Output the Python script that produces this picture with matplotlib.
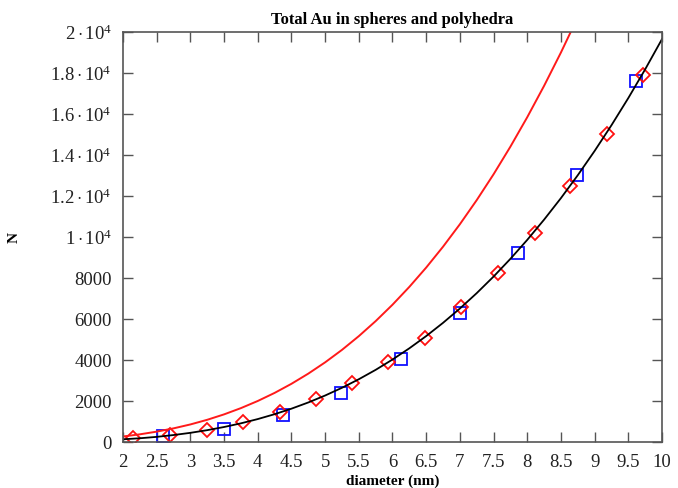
import numpy as np
import matplotlib
matplotlib.use('Agg')
import matplotlib.pyplot as plt
from matplotlib.ticker import MultipleLocator, FuncFormatter

# ── Données ───────────────────────────────────────────────────
# courbe rouge (sphères)
d_sphere = [2.0, 2.25, 2.5, 2.75, 3.0, 3.25, 3.5, 3.75, 4.0, 4.25, 4.5, 4.75,
            5.0, 5.25, 5.5, 5.75, 6.0, 6.25, 6.5, 6.75, 7.0, 7.25, 7.5, 7.75,
            8.0, 8.25, 8.5, 8.75]
n_sphere = [247, 352, 483, 643, 834, 1061, 1325, 1630, 1978, 2372, 2816, 3312,
            3863, 4471, 5141, 5874, 6674, 7544, 8486, 9503, 10599, 11776, 13036, 14384,
            15821, 17351, 18977, 20700]

# courbe noire (ajustement)
d_fit = [2.0, 2.25, 2.5, 2.75, 3.0, 3.25, 3.5, 3.75, 4.0, 4.25, 4.5, 4.75,
         5.0, 5.25, 5.5, 5.75, 6.0, 6.25, 6.5, 6.75, 7.0, 7.25, 7.5, 7.75,
         8.0, 8.25, 8.5, 8.75, 9.0, 9.25, 9.5, 9.75, 10.0]
n_fit = [110, 160, 228, 317, 425, 555, 709, 888, 1096, 1334, 1603, 1906,
         2245, 2622, 3039, 3497, 4000, 4548, 5144, 5790, 6488, 7239, 8047, 8912,
         9837, 10824, 11874, 12991, 14175, 15429, 16755, 18155, 19630]

# losanges rouges
d_diam = [2.15, 2.70, 3.24, 3.785, 4.33, 4.86, 5.40, 5.935, 6.48, 7.02, 7.57, 8.11, 8.64, 9.19, 9.72]
n_diam = [180, 307, 585, 960, 1447, 2080, 2860, 3870, 5073, 6570, 8244, 10180, 12455, 14990, 17900]

# carrés bleus
d_sq = [2.60, 3.50, 4.37, 5.24, 6.12, 7.00, 7.87, 8.74, 9.62]
n_sq = [277, 634, 1285, 2390, 4049, 6293, 9220, 12990, 17580]

plt.rcParams['font.family'] = ['Liberation Serif', 'DejaVu Serif']
plt.rcParams['mathtext.fontset'] = 'custom'
plt.rcParams['mathtext.rm'] = 'Liberation Serif'
plt.rcParams['mathtext.it'] = 'Liberation Serif:italic'
plt.rcParams['mathtext.bf'] = 'Liberation Serif:bold'

fig = plt.figure(figsize=(6.78, 4.89), dpi=100)
ax = fig.add_axes([0.1814, 0.095, 0.795, 0.8385])

ax.plot(d_sq, n_sq, linestyle='none', marker='s', markersize=8.5,
        markerfacecolor='none', markeredgecolor='#1010ff', markeredgewidth=1.3)
ax.plot(d_diam, n_diam, linestyle='none', marker='D', markersize=6.8,
        markerfacecolor='none', markeredgecolor='#ff1010', markeredgewidth=1.3)
ax.plot(d_sphere, n_sphere, color='#ff1a1a', linewidth=1.4)
ax.plot(d_fit, n_fit, color='black', linewidth=1.3)

ax.set_xlim(2, 10)
ax.set_ylim(0, 20000)
ax.xaxis.set_major_locator(MultipleLocator(0.5))
ax.yaxis.set_major_locator(MultipleLocator(2000))


def fmt_y(v, _):
    if v >= 10000:
        return r'$%g\cdot10^{4}$' % (v / 1e4)
    return f'{v:.0f}'


ax.yaxis.set_major_formatter(FuncFormatter(fmt_y))
ax.xaxis.set_major_formatter(FuncFormatter(lambda v, _: f'{v:g}'))

ax.tick_params(direction='in', length=7, width=1.0, color='#555555',
               top=True, right=True, labelsize=13.5, labelcolor='#222222')
ax.tick_params(axis='x', pad=8)
ax.tick_params(axis='y', pad=8)
for sp in ax.spines.values():
    sp.set_color('#555555')
    sp.set_linewidth(1.2)

ax.set_title('Total Au in spheres and polyhedra', fontsize=12,
             fontweight='bold', pad=6)
ax.set_xlabel('diameter (nm)', fontsize=11, fontweight='bold', labelpad=3)
ax.set_ylabel('N', fontsize=11, fontweight='bold')
ax.yaxis.set_label_coords(-0.19, 0.5)

plt.savefig('out.png', dpi=100)
plt.close()
